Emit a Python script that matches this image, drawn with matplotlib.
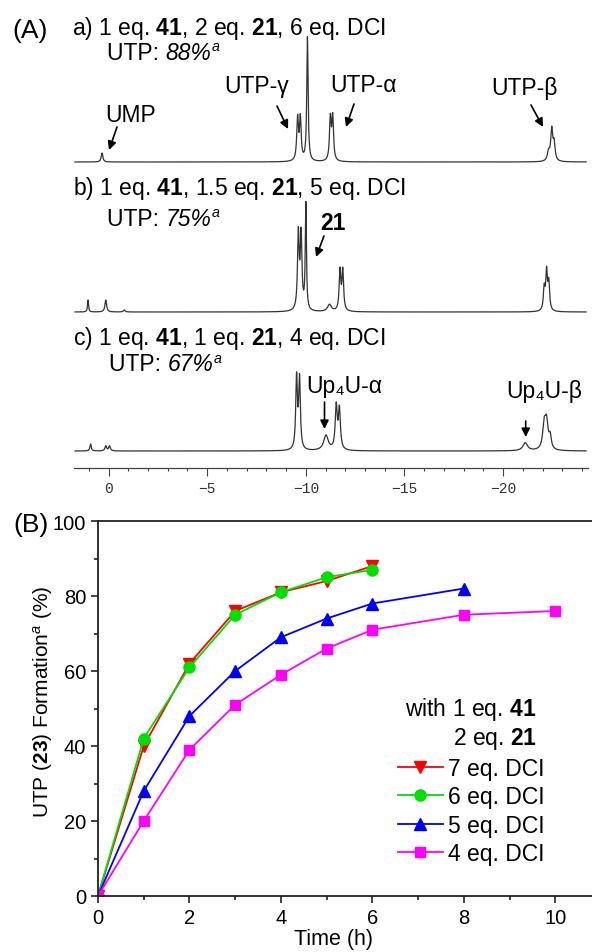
import numpy as np
import matplotlib
matplotlib.use('Agg')
import matplotlib.pyplot as plt
from matplotlib.patches import FancyArrowPatch
from matplotlib.ticker import MultipleLocator

plt.rcParams['font.family'] = 'Liberation Sans'
plt.rcParams['mathtext.fontset'] = 'custom'
plt.rcParams['mathtext.rm'] = 'Liberation Sans'
plt.rcParams['mathtext.it'] = 'Liberation Sans:italic'
plt.rcParams['mathtext.bf'] = 'Liberation Sans:bold'

# --- (A) 31P NMR peaks: chemical shift (ppm), height (a.u.), half width (ppm)
a_ppm = [0.33, -9.58, -9.72, -10.08, -11.24, -11.36, -22.30, -22.46, -22.58]
a_height = [9, 42, 42, 124, 42, 43, 9, 31, 17]
a_width = [0.05, 0.05, 0.05, 0.04, 0.05, 0.05, 0.07, 0.06, 0.06]

b_ppm = [1.04, 0.14, -0.80, -9.62, -9.76, -10.00, -11.20, -11.73, -11.87, -22.08, -22.20, -22.31]
b_height = [12, 12, 2, 76, 74, 106, 7, 40, 40, 22, 38, 27]
b_width = [0.03, 0.05, 0.05, 0.05, 0.05, 0.035, 0.12, 0.05, 0.05, 0.05, 0.05, 0.05]

c_ppm = [0.91, 0.14, -0.05, -9.53, -9.68, -11.02, -11.54, -11.70, -21.12, -22.08, -22.20, -22.38]
c_height = [7, 5, 5, 72, 70, 15, 43, 40, 8, 24, 26, 12]
c_width = [0.04, 0.05, 0.05, 0.05, 0.05, 0.14, 0.06, 0.06, 0.14, 0.09, 0.09, 0.07]

utp_yield = ['88%', '75%', '67%']

# --- (B) UTP formation vs time
t_7 = [0, 1, 2, 3, 4, 5, 6]
y_7 = [0, 40, 62, 76, 81, 84, 88]
t_6 = [0, 1, 2, 3, 4, 5, 6]
y_6 = [0, 42, 61, 75, 81, 85, 87]
t_5 = [0, 1, 2, 3, 4, 5, 6, 8]
y_5 = [0, 28, 48, 60, 69, 74, 78, 82]
t_4 = [0, 1, 2, 3, 4, 5, 6, 8, 10]
y_4 = [0, 20, 39, 51, 59, 66, 71, 75, 76]

W, H = 592, 953


def fx(px):
    return px / W


def fy(py):
    return 1 - py / H


def spectrum(ppm, pos, height, width):
    y = np.zeros_like(ppm)
    for p, h, w in zip(pos, height, width):
        y += h / (1 + ((ppm - p) / w) ** 2)
    return y


fig = plt.figure(figsize=(W / 100, H / 100), dpi=100)
fs = 16.5

# ---------------- panel A ----------------
ax_a = fig.add_axes([fx(74), fy(469), fx(588) - fx(74), 469 / H])
ax_a.set_xlim(1.75, -24.3)
ax_a.set_ylim(0, 469)

ppm = np.linspace(1.7, -24.2, 9000)
for base, pos, h, w in [(306, a_ppm, a_height, a_width),
                        (156, b_ppm, b_height, b_width),
                        (17, c_ppm, c_height, c_width)]:
    ax_a.plot(ppm, base + spectrum(ppm, pos, h, w), color='#333333', lw=0.9)

for s in ['left', 'right', 'top']:
    ax_a.spines[s].set_visible(False)
ax_a.spines['bottom'].set_color('#444444')
ax_a.spines['bottom'].set_linewidth(0.9)
ax_a.set_yticks([])
ax_a.xaxis.set_major_locator(MultipleLocator(5))
ax_a.xaxis.set_minor_locator(MultipleLocator(1))
ax_a.tick_params(axis='x', which='major', length=5.5, width=0.8, color='#444444',
                 labelsize=10.5, labelcolor='#333333', pad=4)
ax_a.tick_params(axis='x', which='minor', length=2.5, width=0.8, color='#444444')
for lab in ax_a.get_xticklabels():
    lab.set_family('Liberation Mono')
ax_a.patch.set_alpha(0)

fig.text(fx(12), fy(31), '(A)', fontsize=19, va='center', ha='left')
conditions = [(72, 28, r'a) 1 eq. $\mathbf{41}$, 2 eq. $\mathbf{21}$, 6 eq. DCI'),
              (73, 189, r'b) 1 eq. $\mathbf{41}$, 1.5 eq. $\mathbf{21}$, 5 eq. DCI'),
              (73, 338, r'c) 1 eq. $\mathbf{41}$, 1 eq. $\mathbf{21}$, 4 eq. DCI')]
for tx, ty, txt in conditions:
    fig.text(fx(tx), fy(ty), txt, fontsize=fs, va='center')

# "UTP: xx%^a" with italic value
for (tx, ty), val in zip([(107, 53), (107, 219), (109, 365)], utp_yield):
    t1 = fig.text(fx(tx), fy(ty), 'UTP: ', fontsize=fs, va='center')
    t2 = ax_a.annotate(val, xy=(1, 0), xycoords=t1, va='bottom', ha='left',
                       fontsize=fs, fontstyle='italic', annotation_clip=False)
    ax_a.annotate('a', xy=(1, 1), xycoords=t2, xytext=(0.5, 1.0),
                  textcoords='offset points', va='top', ha='left',
                  fontsize=fs * 0.62, fontstyle='italic', annotation_clip=False)

labels = [('UMP', 131, 115, (117, 128), (109, 151), 'normal'),
          ('UTP-γ', 257, 87, (277, 107), (288, 130), 'normal'),
          ('UTP-α', 364, 85, (354, 105), (346, 128), 'normal'),
          ('UTP-β', 524, 88, (531, 106), (543, 128), 'normal'),
          ('21', 333, 223, (324, 237), (316, 258), 'bold'),
          ('Up₄U-α', 344, 387, (324.5, 403), (324.5, 430), 'normal'),
          ('Up₄U-β', 544, 392, (525.7, 422), (525.7, 438), 'normal')]
for txt, tx, ty, p0, p1, wgt in labels:
    fig.text(fx(tx), fy(ty), txt, fontsize=fs, ha='center', va='center', fontweight=wgt)
    fig.add_artist(FancyArrowPatch(
        (fx(p0[0]), fy(p0[1])), (fx(p1[0]), fy(p1[1])), transform=fig.transFigure,
        arrowstyle='-|>,head_length=5,head_width=2.5', color='black', lw=1.2,
        shrinkA=0, shrinkB=0))

# ---------------- panel B ----------------
ax_b = fig.add_axes([fx(98), fy(897), 1 - fx(98), 375 / H])
ax_b.set_xlim(0, 10.8)
ax_b.set_ylim(0, 100)

ax_b.plot(t_7, y_7, color='#ff0000', marker='v', ms=9, lw=1.3, label='7 eq. DCI')
ax_b.plot(t_6, y_6, color='#00e000', marker='o', ms=8, lw=1.3, label='6 eq. DCI')
ax_b.plot(t_5, y_5, color='#0000ff', marker='^', ms=9, lw=1.3, label='5 eq. DCI')
ax_b.plot(t_4, y_4, color='#ff00ff', marker='s', ms=7.5, lw=1.3, label='4 eq. DCI')

ax_b.spines['right'].set_visible(False)
for s in ['left', 'top', 'bottom']:
    ax_b.spines[s].set_linewidth(1.3)
    ax_b.spines[s].set_color('#222222')
ax_b.xaxis.set_major_locator(MultipleLocator(2))
ax_b.xaxis.set_minor_locator(MultipleLocator(1))
ax_b.yaxis.set_major_locator(MultipleLocator(20))
ax_b.yaxis.set_minor_locator(MultipleLocator(10))
ax_b.tick_params(which='major', length=5, width=1.2, labelsize=14.5, color='#222222')
ax_b.tick_params(which='minor', length=3, width=1.2, color='#222222')

ax_b.set_xlabel('Time (h)', fontsize=15.5)
ax_b.xaxis.label.set_va('center')
ax_b.xaxis.set_label_coords((333 - 98) / (592 - 98), (897 - 940) / 375)
ax_b.set_ylabel(r'UTP ($\mathbf{23}$) Formation$^{\mathit{a}}$ (%)', fontsize=15)
ax_b.yaxis.label.set_va('center')
ax_b.yaxis.set_label_coords((43 - 98) / (592 - 98), (897 - 702) / 375)

fig.text(fx(13), fy(525), '(B)', fontsize=19, va='center', ha='left')
fig.text(fx(405), fy(710), r'with 1 eq. $\mathbf{41}$', fontsize=fs, va='center')
fig.text(fx(453), fy(739), r'2 eq. $\mathbf{21}$', fontsize=fs, va='center')

fig.legend(loc='upper left', bbox_to_anchor=(fx(398), fy(758)), frameon=False,
           fontsize=fs, handlelength=1.95, handletextpad=0.25, labelspacing=0.24,
           borderpad=0, borderaxespad=0)

fig.savefig('out.png', dpi=100)
